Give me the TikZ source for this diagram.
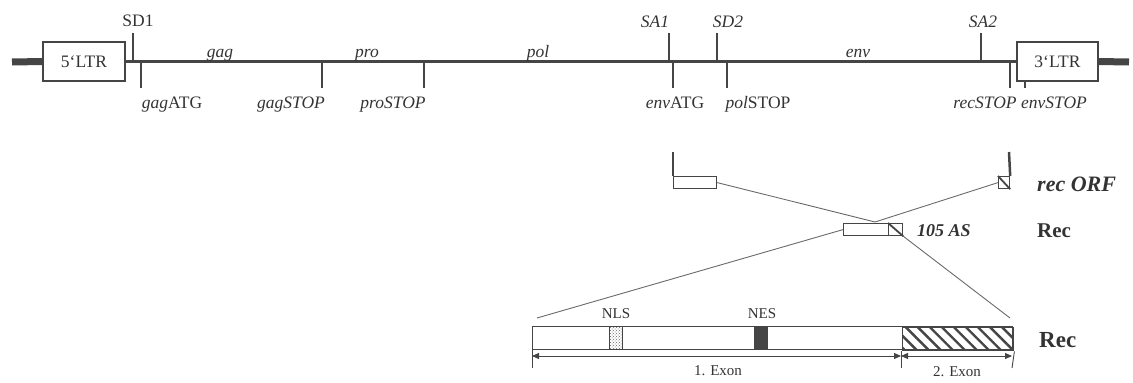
\documentclass[tikz,border=0pt]{standalone}
\usepackage{fontspec}
\setmainfont{Liberation Serif}
\usetikzlibrary{patterns,patterns.meta,arrows.meta}
\definecolor{ink}{HTML}{454545}
\definecolor{txt}{HTML}{333333}
\definecolor{thinc}{HTML}{6A6A6A}
\begin{document}
\begin{tikzpicture}[x=1pt,y=-1pt,
  lbl/.style={text=txt,font=\fontsize{17.5}{19}\selectfont,inner sep=0pt,anchor=base},
  small/.style={text=txt,font=\fontsize{15}{17}\selectfont,inner sep=0pt,anchor=base},
  big/.style={text=txt,font=\fontsize{22}{24}\selectfont\bfseries,inner sep=0pt,anchor=base west},
  ltrbox/.style={draw=ink,line width=1.2pt,fill=white,minimum height=39pt,inner sep=0pt,text=txt,font=\fontsize{17.5}{19}\selectfont},
  tickl/.style={draw=ink,line width=1.2pt},
  thinl/.style={draw=thinc,line width=0.9pt},
  wbox/.style={draw=ink,line width=1.2pt,fill=white,inner sep=0pt,anchor=north west},
  hatch/.style={pattern={Lines[angle=-45,distance=8.5pt,line width=2.4pt]},pattern color=ink},
  dimarr/.style={draw=ink,line width=0.9pt,{Triangle[length=7pt,width=6pt]}-{Triangle[length=7pt,width=6pt]}},
]
\useasboundingbox (0,0) rectangle (1133,383);

% ---------- genome line ----------
\node[ltrbox,minimum width=82pt] (ltr5) at (84,61.5) {5‘LTR};
\node[ltrbox,minimum width=81pt] (ltr3) at (1057.5,61.5) {3‘LTR};
\coordinate (endL) at (12,62);
\coordinate (endR) at (1129,62);
\draw[ink,line width=7pt] (endL) -- (ltr5.west);
\draw[ink,line width=3.8pt] (ltr5.east) -- (ltr3.west);
\draw[ink,line width=7pt] (ltr3.east) -- (endR);

% upward ticks
\draw[tickl] (133,33) -- (133,62);
\draw[tickl] (669,33) -- (669,62);
\draw[tickl] (717,33) -- (717,62);
\draw[tickl] (981,33) -- (981,62);
% downward ticks
\draw[tickl] (141,62) -- (141,88);
\draw[tickl] (322,62) -- (322,88);
\draw[tickl] (424,62) -- (424,88);
\draw[tickl] (673,62) -- (673,88);
\draw[tickl] (727,62) -- (727,88);
\draw[tickl] (1010,62) -- (1010,88);
\draw[tickl] (1025,81) -- (1025,88);

% labels above
\node[lbl] (sd1) at (138,26) {SD1};
\node[lbl] (sa1) at (655,27) {\textit{SA1}};
\node[lbl] (sd2) at (728,27) {\textit{SD2}};
\node[lbl] (sa2) at (983,27) {\textit{SA2}};
% gene names
\node[lbl] (gag) at (220,57) {\textit{gag}};
\node[lbl] (pro) at (367,57) {\textit{pro}};
\node[lbl] (pol) at (538,57) {\textit{pol}};
\node[lbl] (env) at (858,57) {\textit{env}};
% labels below
\node[lbl] (gagatg) at (172,108) {\textit{gag}ATG};
\node[lbl] (gagstop) at (291,108) {\textit{gagSTOP}};
\node[lbl] (prostop) at (393,108) {\textit{proSTOP}};
\node[lbl] (envatg) at (675,108) {\textit{env}ATG};
\node[lbl] (polstop) at (758,108) {\textit{pol}STOP};
\node[lbl] (recstop) at (985,108) {\textit{recSTOP}};
\node[lbl] (envstop) at (1054,108) {\textit{envSTOP}};

% ---------- rec ORF ----------
\node[wbox,minimum width=43pt,minimum height=12pt] (orfL) at (673,176) {};
\node[wbox,minimum width=11pt,minimum height=12pt] (orfR) at (998,176) {};
\draw[ink,line width=1.8pt] (orfR.north west) -- (orfR.south east);
\coordinate (orfLtop) at (673,152);
\coordinate (orfRtop) at (1009,152);
\draw[ink,line width=2.5pt] (orfLtop) -- (orfL.north west);
\draw[ink,line width=2.5pt] (orfRtop) -- (orfR.north east);
\node[big,font=\fontsize{22}{24}\selectfont\bfseries\itshape] (recorf) at (1037,191) {rec ORF};

% ---------- Rec 105 AS ----------
\node[wbox,minimum width=59pt,minimum height=12pt] (recA) at (843,223) {};
\node[wbox,minimum width=14pt,minimum height=12pt] (recH) at (888,223) {};
\draw[ink,line width=1.8pt] (recH.north west) -- (recH.south east);
\coordinate (cross) at (875,222);
\draw[thinl] (orfL.east) -- (cross);
\draw[thinl] (orfR.west) -- (cross);
\node[lbl,anchor=base west,font=\fontsize{18}{20}\selectfont\bfseries\itshape] (as) at (917,236) {105 AS};
\node[big,font=\fontsize{21}{24}\selectfont\bfseries] (rec1) at (1037,237) {Rec};

% ---------- Rec protein ----------
\node[wbox,minimum width=480pt,minimum height=23pt] (prot) at (532,326) {};
\node[wbox,minimum width=111pt,minimum height=23pt,hatch] (exon2) at (901,326) {};
\node[wbox,minimum width=13pt,minimum height=23pt,pattern=crosshatch dots,pattern color=ink!80] (nls) at (609,326) {};
\node[wbox,minimum width=13pt,minimum height=23pt,fill=ink] (nes) at (754,326) {};
\node[small] (nlsl) at (616,318) {NLS};
\node[small] (nesl) at (762,318) {NES};
\node[big,font=\fontsize{23}{26}\selectfont\bfseries] (rec2) at (1039,347) {Rec};

\coordinate (bigL) at (537,318);
\coordinate (bigR) at (1010,318);
\draw[thinl] (recA.west) -- (bigL);
\draw[thinl] (recH.south east) -- (bigR);

% dimension lines
\coordinate (v1) at (532,368);
\coordinate (v2) at (901,368);
\coordinate (v3) at (1012,368);
\coordinate (d1) at (532,356);
\coordinate (d2) at (901,356);
\coordinate (d3) at (1012,356);
\draw[thinl,draw=ink] (prot.south west) -- (v1);
\draw[thinl,draw=ink] (exon2.south west) -- (v2);
\draw[thinl,draw=ink] (exon2.south east) -- (v3);
\draw[dimarr] (d1) -- (d2);
\draw[dimarr] (d2) -- (d3);
\node[small] (ex1) at (718,375) {1. Exon};
\node[small] (ex2) at (957,376) {2. Exon};
\end{tikzpicture}
\end{document}
